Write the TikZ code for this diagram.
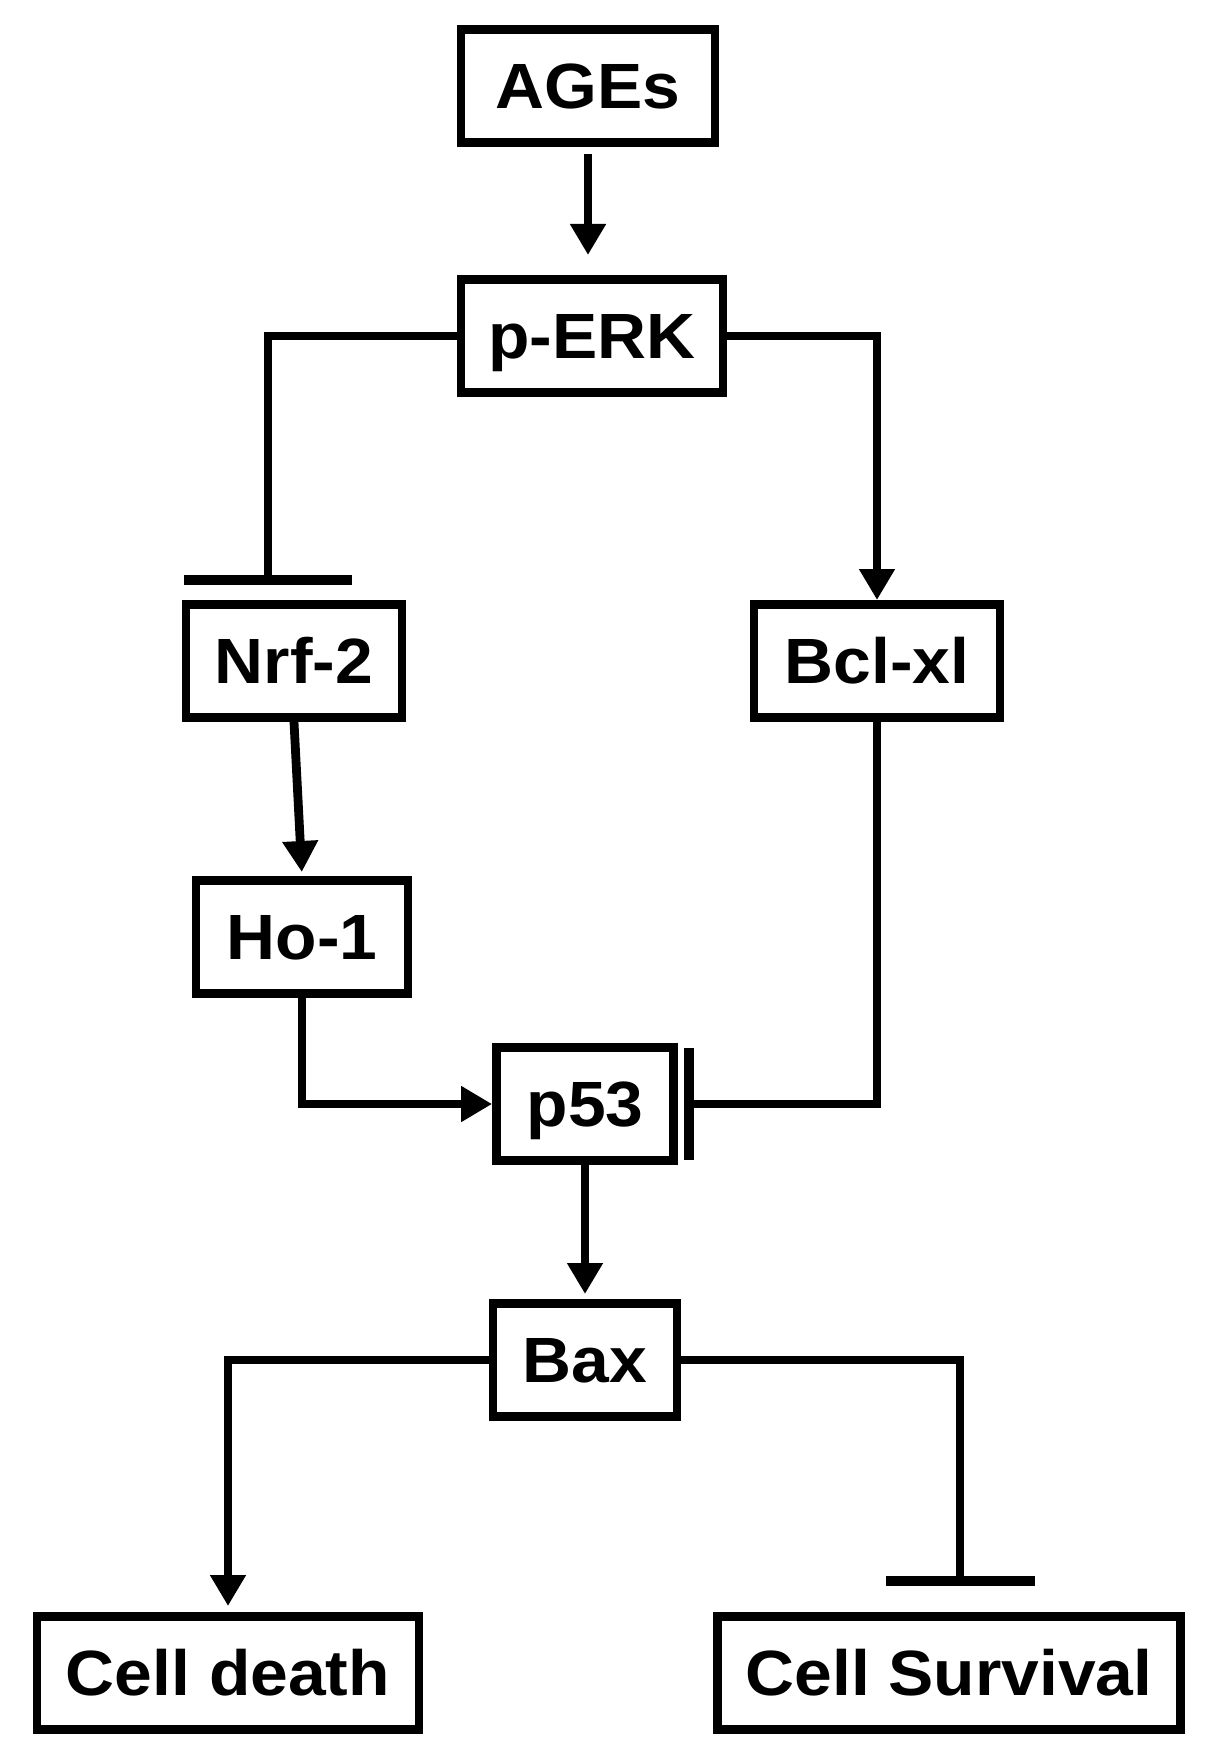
\documentclass[tikz,border=0pt]{standalone}
\usepackage{fontspec}
\setmainfont{Liberation Sans}[FakeStretch=1.06]
\usetikzlibrary{arrows.meta}

\begin{document}
\begin{tikzpicture}[
  x=0.25mm, y=-0.25mm,
  font=\fontsize{45.5}{54}\selectfont\bfseries,
  box/.style={draw, line width=2.2mm, minimum height=28.3mm, inner sep=0pt, text height=11.4mm, text depth=0pt},
  arrow/.style={-{Triangle[width=8.5mm,length=7.75mm]}, line width=2.2mm},
  block/.style={-{Bar[width=#1,line width=2.6mm]}, line width=2.2mm}
]
\useasboundingbox (0,0) rectangle (1217,1756);

\node[box, minimum width=63.5mm] (ages) at (588,86) {AGEs};
\node[box, minimum width=65.5mm] (perk) at (592,336) {p-ERK};
\node[box, minimum width=54mm] (nrf) at (294,661) {Nrf-2};
\node[box, minimum width=61.5mm] (bcl) at (877,661) {Bcl-xl};
\node[box, minimum width=53mm] (ho) at (302,937) {Ho-1};
\node[box, minimum width=44.25mm] (p53) at (585,1104) {p53};
\node[box, minimum width=46mm] (bax) at (585,1360) {Bax};
\node[box, minimum width=95.5mm] (death) at (228,1673) {Cell death};
\node[box, minimum width=115.75mm] (surv) at (949,1673) {Cell Survival};

\draw[arrow, shorten <=1.75mm, shorten >=5mm] (ages.south) -- (ages.south |- perk.north);
\draw[block=42mm, shorten >=3.75mm] (perk.west) -| ([xshift=-6.5mm]nrf.north);
\draw[arrow] (perk.east) -| (bcl.north);
\draw[arrow, shorten >=1mm] (nrf.south) -- (ho.north);
\draw[arrow] (ho.south) |- (p53.west);
\draw[block=28mm, shorten >=1.5mm] (bcl.south) |- (p53.east);
\draw[arrow, shorten >=1.25mm] (p53.south) -- (p53.south |- bax.north);
\draw[arrow, shorten >=1.5mm] (bax.west) -| (death.north);
\draw[block=37.25mm, shorten >=6.5mm] (bax.east) -| ([xshift=2.75mm]surv.north);

\end{tikzpicture}
\end{document}
